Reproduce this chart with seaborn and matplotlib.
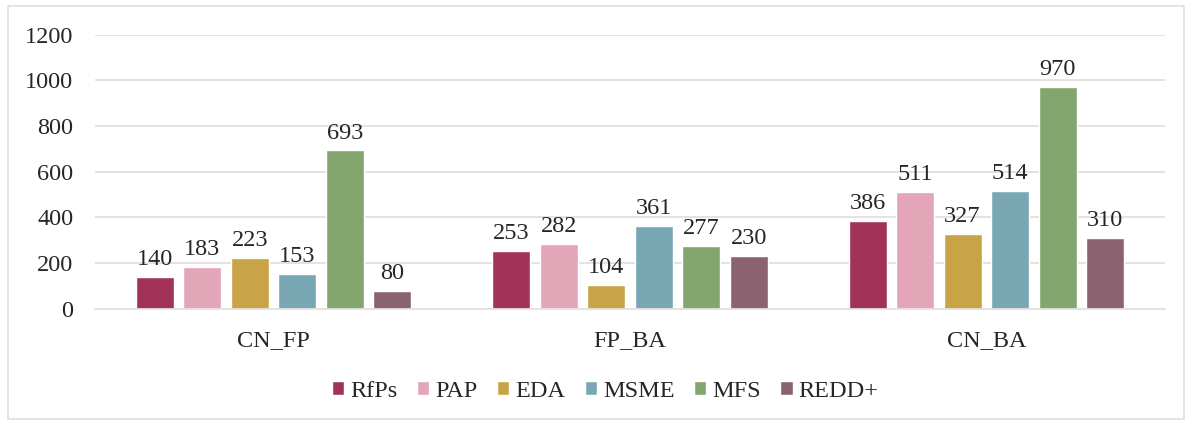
import numpy as np
import pandas as pd
import seaborn as sns
import matplotlib.pyplot as plt
from matplotlib.patches import Rectangle

groups = ['CN_FP', 'FP_BA', 'CN_BA']
series = ['RfPs', 'PAP', 'EDA', 'MSME', 'MFS', 'REDD+']
rfps = [140, 253, 386]
pap = [183, 282, 511]
eda = [223, 104, 327]
msme = [153, 361, 514]
mfs = [693, 277, 970]
redd = [80, 230, 310]
colors = ['#A03357', '#E3A6B9', '#C8A446', '#79A8B4', '#82A66E', '#8B6370']

df = pd.DataFrame({'group': groups, 'RfPs': rfps, 'PAP': pap, 'EDA': eda,
                   'MSME': msme, 'MFS': mfs, 'REDD+': redd})
df = df.melt(id_vars='group', var_name='series', value_name='value')

sns.set_style('white')
plt.rcParams['font.family'] = ['Liberation Serif', 'DejaVu Serif']

fig = plt.figure(figsize=(11.92, 4.23), dpi=100)
ax = fig.add_axes([0.080, 0.270, 0.897, 0.648])

sns.barplot(ax=ax, data=df, x='group', y='value', hue='series',
            hue_order=series, order=groups, palette=colors,
            width=0.8, gap=0.2, saturation=1, errorbar=None)

for cont in ax.containers:
    ax.bar_label(cont, fmt='%d', padding=5, fontsize=17.5)

ax.set_ylim(0, 1200)
ax.set_yticks(range(0, 1201, 200))
ax.yaxis.grid(True, color='#E4E0DC', linewidth=1.3)
ax.set_axisbelow(True)
for s in ['top', 'right', 'left']:
    ax.spines[s].set_visible(False)
ax.spines['bottom'].set_color('#E4E0DC')
ax.spines['bottom'].set_linewidth(1.3)
ax.tick_params(axis='both', length=0, labelsize=17.5)
ax.tick_params(axis='x', pad=15)
ax.tick_params(axis='y', pad=16)
ax.set_xlabel('')
ax.set_ylabel('')

ax.legend(loc='center', bbox_to_anchor=(0.477, -0.30), ncol=6, frameon=False,
          fontsize=17.5, handlelength=0.5, handleheight=0.5, handletextpad=0.25,
          columnspacing=0.8)

fig.patches.append(Rectangle((0.007, 0.01), 0.986, 0.975, transform=fig.transFigure,
                             fill=False, edgecolor='#E4E0DC', linewidth=1.3))

fig.savefig('out.png', dpi=100)
